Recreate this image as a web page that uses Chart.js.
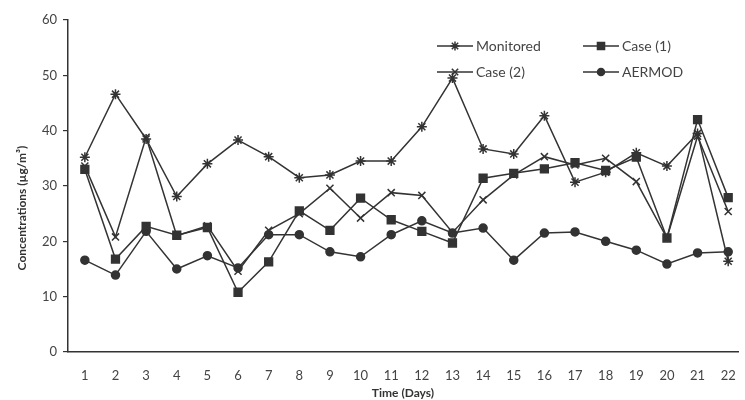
<!DOCTYPE html>
<html lang="en">
<head>
    <meta charset="UTF-8">
    <title>Concentrations</title>
    <script src="https://cdn.jsdelivr.net/npm/chart.js"></script>
    <style>
        body {
            margin: 0;
            padding: 0;
            background-color: #ffffff;
        }

        #chart-box {
            width: 745px;
            height: 400px;
        }
    </style>
</head>
<body>
    <div id="chart-box">
        <canvas id="conc-chart"></canvas>
    </div>

    <script>
        // Values (µg/m³)
        const days = [1, 2, 3, 4, 5, 6, 7, 8, 9, 10, 11, 12, 13, 14, 15, 16, 17, 18, 19, 20, 21, 22];
        const monitored = [35.2, 46.6, 38.5, 28.1, 34.0, 38.3, 35.3, 31.5, 32.0, 34.5, 34.5, 40.7, 49.5, 36.7, 35.8, 42.7, 30.7, 32.5, 36.0, 33.6, 39.5, 16.4];
        const case1 = [33.0, 16.8, 22.7, 21.1, 22.5, 10.8, 16.3, 25.5, 22.0, 27.8, 23.9, 21.8, 19.7, 31.4, 32.3, 33.1, 34.2, 32.8, 35.2, 20.6, 42.0, 27.9];
        const case2 = [33.6, 20.8, 38.8, 21.0, 22.8, 14.6, 22.0, 25.0, 29.6, 24.2, 28.8, 28.3, 21.6, 27.5, 32.0, 35.3, 33.8, 35.0, 30.8, 20.6, 39.0, 25.4];
        const aermod = [16.6, 13.9, 21.8, 15.0, 17.4, 15.2, 21.2, 21.2, 18.1, 17.2, 21.2, 23.7, 21.5, 22.4, 16.6, 21.5, 21.7, 20.0, 18.4, 15.9, 17.9, 18.1];
        const yTicks = [0, 10, 20, 30, 40, 50, 60];

        const ink = '#333333';
        const textColor = '#444444';

        const series = [
            { label: 'Monitored', data: monitored, style: 'star', radius: 5 },
            { label: 'Case (1)', data: case1, style: 'rect', radius: 5.5 },
            { label: 'Case (2)', data: case2, style: 'crossRot', radius: 5 },
            { label: 'AERMOD', data: aermod, style: 'circle', radius: 4 }
        ];

        // legend drawn by hand in two columns inside the plot
        const legendSpots = [
            { x: 437, y: 46 }, { x: 583, y: 46 },
            { x: 437, y: 72 }, { x: 583, y: 72 }
        ];

        const figurePlugin = {
            id: 'figureExtras',
            afterDraw(chart) {
                const ctx = chart.ctx;
                ctx.save();
                ctx.strokeStyle = ink;
                ctx.fillStyle = ink;
                ctx.lineWidth = 1.5;
                series.forEach((s, i) => {
                    const p = legendSpots[i];
                    ctx.beginPath();
                    ctx.moveTo(p.x, p.y);
                    ctx.lineTo(p.x + 36, p.y);
                    ctx.stroke();
                    Chart.helpers.drawPoint(ctx, { pointStyle: s.style, radius: s.radius - 0.5, borderWidth: 1.5 }, p.x + 18, p.y);
                    ctx.font = '14px Lato, "Open Sans", sans-serif';
                    ctx.fillStyle = textColor;
                    ctx.textBaseline = 'middle';
                    ctx.fillText(s.label, p.x + 39, p.y);
                    ctx.fillStyle = ink;
                });

                // y axis title
                ctx.translate(22, 208);
                ctx.rotate(-Math.PI / 2);
                ctx.font = 'bold 12px Lato, "Open Sans", sans-serif';
                ctx.fillStyle = ink;
                ctx.textAlign = 'center';
                ctx.textBaseline = 'middle';
                ctx.fillText('Concentrations (µg/m³)', 0, 0);
                ctx.restore();
            }
        };

        const renderChart = () => {
            const ctx = document.getElementById('conc-chart').getContext('2d');

            new Chart(ctx, {
                type: 'line',
                data: {
                    datasets: series.map(s => ({
                        label: s.label,
                        data: days.map((d, i) => ({ x: d, y: s.data[i] })),
                        borderColor: ink,
                        backgroundColor: ink,
                        borderWidth: 1.5,
                        pointStyle: s.style,
                        pointRadius: s.radius,
                        pointBorderWidth: 1.5,
                        pointBorderColor: ink,
                        pointBackgroundColor: ink,
                        tension: 0,
                        fill: false
                    }))
                },
                options: {
                    responsive: true,
                    maintainAspectRatio: false,
                    animation: false,
                    layout: {
                        padding: { top: 20, right: 0, bottom: 0, left: 0 }
                    },
                    plugins: {
                        legend: { display: false },
                        tooltip: { enabled: false }
                    },
                    scales: {
                        x: {
                            type: 'linear',
                            min: 0.45,
                            max: 22.32,
                            afterBuildTicks: (scale) => {
                                scale.ticks = days.map(d => ({ value: d }));
                            },
                            afterFit: (scale) => {
                                scale.height = 48;
                            },
                            grid: { display: false },
                            border: { display: true, color: ink, width: 1.5 },
                            ticks: {
                                color: textColor,
                                font: { family: 'Lato, "Open Sans", sans-serif', size: 13 },
                                padding: 8,
                                maxRotation: 0,
                                autoSkip: false
                            },
                            title: {
                                display: true,
                                text: 'Time (Days)',
                                color: ink,
                                font: { family: 'Lato, "Open Sans", sans-serif', size: 12, weight: 'bold' },
                                padding: { top: 2, bottom: 0 }
                            }
                        },
                        y: {
                            min: 0,
                            max: 60,
                            afterBuildTicks: (scale) => {
                                scale.ticks = yTicks.map(v => ({ value: v }));
                            },
                            afterFit: (scale) => {
                                scale.width = 68;
                            },
                            grid: {
                                drawOnChartArea: false,
                                drawTicks: true,
                                tickLength: 5,
                                color: ink,
                                lineWidth: 1.2
                            },
                            border: { display: true, color: ink, width: 1.5 },
                            ticks: {
                                color: textColor,
                                font: { family: 'Lato, "Open Sans", sans-serif', size: 13 },
                                padding: 6
                            }
                        }
                    }
                },
                plugins: [figurePlugin]
            });
        };

        renderChart();
    </script>
</body>
</html>
